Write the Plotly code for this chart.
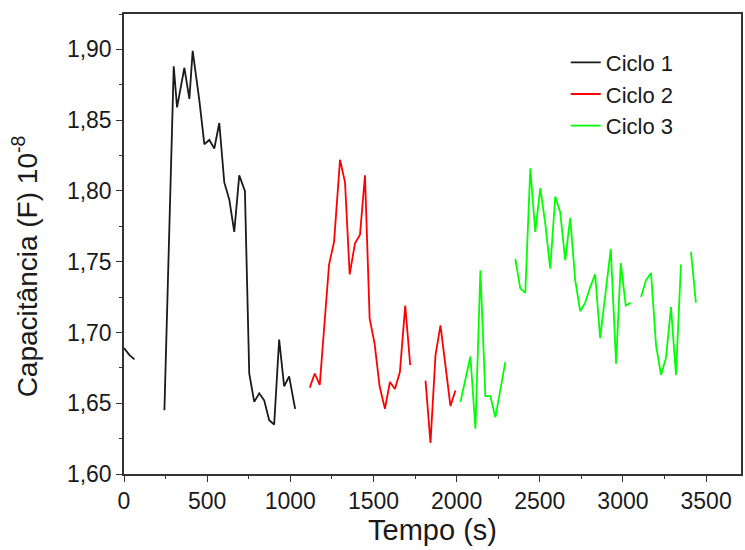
import plotly.graph_objects as go

# Ciclo 1 (None marks a gap in the line)
t1 = [0, 33, 63, None, 243, 299, 319, 363, 393, 413, 453, 483, 513, 543, 573, 603, 633, 663,
      693, 727, 753, 783, 813, 843, 873, 903, 933, 963, 993, 1029]
c1 = [1.689, 1.684, 1.681, None, 1.645, 1.888, 1.859, 1.887, 1.865, 1.899, 1.864, 1.833, 1.836,
      1.830, 1.848, 1.806, 1.794, 1.771, 1.811, 1.800, 1.671, 1.651, 1.657, 1.652, 1.638, 1.635,
      1.695, 1.662, 1.669, 1.646]

# Ciclo 2
t2 = [1117, 1147, 1177, 1233, 1263, 1299, 1329, 1357, 1389, 1419, 1449, 1477, 1507, 1537, 1569,
      1599, 1629, 1659, 1691, 1721, None, 1813, 1843, 1873, 1903, 1963, 1993]
c2 = [1.661, 1.671, 1.663, 1.748, 1.764, 1.822, 1.806, 1.741, 1.763, 1.769, 1.811, 1.710, 1.692,
      1.662, 1.646, 1.665, 1.660, 1.672, 1.719, 1.677, None, 1.666, 1.622, 1.684, 1.705, 1.648,
      1.659]

# Ciclo 3
t3 = [2023, 2053, 2083, 2113, 2143, 2173, 2203, 2233, 2263, 2293, None,
      2353, 2383, 2413, 2443, 2473, 2503, 2533, 2563, 2593, 2623, 2653, 2683, 2713, 2743, 2773,
      2803, 2833, 2863, 2927, 2959, 2987, 3017, 3047, None,
      3109, 3139, 3169, 3199, 3229, 3259, 3289, 3319, 3349, None, 3409, 3439]
c3 = [1.651, 1.666, 1.683, 1.632, 1.744, 1.655, 1.655, 1.640, 1.661, 1.679, None,
      1.752, 1.731, 1.728, 1.816, 1.771, 1.802, 1.777, 1.745, 1.796, 1.785, 1.751, 1.781, 1.737,
      1.715, 1.721, 1.732, 1.741, 1.696, 1.759, 1.678, 1.749, 1.719, 1.721, None,
      1.725, 1.737, 1.742, 1.691, 1.670, 1.682, 1.718, 1.670, 1.748, None, 1.757, 1.721]

y_tickvals = [1.60, 1.65, 1.70, 1.75, 1.80, 1.85, 1.90]
y_ticktext = ["1,60", "1,65", "1,70", "1,75", "1,80", "1,85", "1,90"]
x_tickvals = [0, 500, 1000, 1500, 2000, 2500, 3000, 3500]
x_ticktext = ["0", "500", "1000", "1500", "2000", "2500", "3000", "3500"]
y_title = "Capacitância (F) 10<sup>-8</sup>"
x_title = "Tempo (s)"

FONT = "Liberation Sans, Arial, sans-serif"
TXT = "#1a1a1a"

fig = go.Figure()
fig.add_trace(go.Scatter(x=t1, y=c1, mode="lines", name="Ciclo 1",
                         line=dict(color="#1a1a1a", width=1.8), connectgaps=False))
fig.add_trace(go.Scatter(x=t2, y=c2, mode="lines", name="Ciclo 2",
                         line=dict(color="#ff0000", width=1.8), connectgaps=False))
fig.add_trace(go.Scatter(x=t3, y=c3, mode="lines", name="Ciclo 3",
                         line=dict(color="#00ff00", width=1.8), connectgaps=False))

axis_common = dict(showline=True, linecolor="#333333", linewidth=1.5, mirror=True,
                   showgrid=False, zeroline=False, ticks="outside", ticklen=6,
                   tickwidth=1.3, tickcolor="#333333",
                   tickfont=dict(family=FONT, size=23, color=TXT))

fig.update_layout(
    width=745, height=550,
    margin=dict(l=124, r=2, t=14, b=76),
    paper_bgcolor="white", plot_bgcolor="white",
    font=dict(family=FONT, color=TXT),
    xaxis=dict(range=[0, 3710], tickvals=x_tickvals, ticktext=x_ticktext,
               title=dict(text=x_title, font=dict(size=29), standoff=3),
               minor=dict(dtick=250, tick0=0, ticks="outside", ticklen=3,
                          tickcolor="#333333", tickwidth=1.2, showgrid=False),
               **axis_common),
    yaxis=dict(range=[1.60, 1.925], tickvals=y_tickvals, ticktext=y_ticktext,
               minor=dict(dtick=0.025, tick0=1.6, ticks="outside", ticklen=3,
                          tickcolor="#333333", tickwidth=1.2, showgrid=False),
               **axis_common),
    legend=dict(x=0.716, y=0.94, xanchor="left", yanchor="top",
                bgcolor="rgba(0,0,0,0)", font=dict(size=22, color=TXT),
                tracegroupgap=0),
    showlegend=True,
    annotations=[dict(text=y_title, textangle=-90, xref="paper", yref="paper",
                      x=-0.16, y=0.452, xanchor="center", yanchor="middle",
                      showarrow=False, font=dict(family=FONT, size=28, color=TXT))],
)

fig.write_html("out.html")
